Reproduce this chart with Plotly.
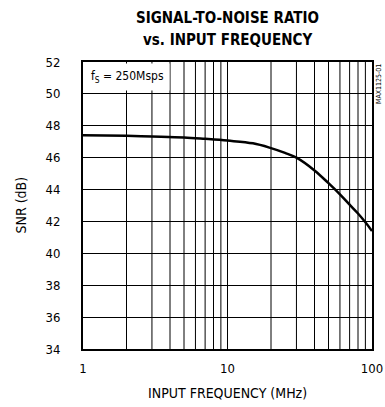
import plotly.graph_objects as go

freq_mhz = [1, 2, 3, 5, 7, 10, 15, 20, 25, 30, 40, 50, 60, 70, 80, 90, 100]
snr_db = [47.4, 47.37, 47.33, 47.27, 47.18, 47.07, 46.9, 46.6, 46.3, 46.0, 45.2, 44.4, 43.7, 43.05, 42.5, 41.95, 41.4]

x_ticks = [1, 10, 100]
x_grid = [2, 3, 4, 5, 6, 7, 8, 9, 20, 30, 40, 50, 60, 70, 80, 90]
y_ticks = [34, 36, 38, 40, 42, 44, 46, 48, 50, 52]
title_lines = ["SIGNAL-TO-NOISE RATIO", "vs. INPUT FREQUENCY"]

FONT = "DejaVu Sans Condensed, Liberation Sans Narrow, Liberation Sans, Arial"

fig = go.Figure()
fig.add_trace(go.Scatter(x=freq_mhz, y=snr_db, mode="lines",
                         line=dict(color="black", width=2.5, shape="spline"),
                         hoverinfo="skip", showlegend=False))

for g in x_grid:
    fig.add_shape(type="line", xref="x", yref="paper", x0=g, x1=g, y0=0, y1=1,
                  line=dict(color="black", width=1), layer="below")

fig.update_layout(
    width=385, height=407,
    margin=dict(l=83, r=13, t=62, b=58, autoexpand=False),
    paper_bgcolor="white", plot_bgcolor="white",
    font=dict(family=FONT, color="black", size=12),
    xaxis=dict(type="log", range=[0, 2], tickvals=x_ticks, ticktext=["1", "10", "100"],
               showgrid=True, gridcolor="black", gridwidth=1,
               showline=True, linecolor="black", linewidth=2, mirror=True,
               ticks="outside", ticklen=6, tickcolor="rgba(0,0,0,0)", zeroline=False,
               automargin=False, tickfont=dict(size=13)),
    yaxis=dict(range=[34, 52], tickvals=y_ticks,
               showgrid=True, gridcolor="black", gridwidth=1,
               showline=True, linecolor="black", linewidth=2, mirror=True,
               ticks="outside", ticklen=18, tickcolor="rgba(0,0,0,0)", zeroline=False,
               automargin=False, tickfont=dict(size=13)),
)

for txt, shift in zip(title_lines, [44, 22]):
    fig.add_annotation(xref="paper", yref="paper", x=0.5, y=1, xanchor="center", yanchor="middle",
                       text="<b>" + txt + "</b>", showarrow=False, yshift=shift,
                       font=dict(size=15))
fig.add_annotation(xref="paper", yref="paper", x=0.5, y=0, xanchor="center", yanchor="middle",
                   text="INPUT FREQUENCY (MHz)", showarrow=False, yshift=-44,
                   font=dict(size=14))
fig.add_annotation(xref="paper", yref="paper", x=0, y=0.5, xanchor="center", yanchor="middle",
                   text="SNR (dB)", textangle=-90, showarrow=False, xshift=-63,
                   font=dict(size=14))
fig.add_annotation(xref="paper", yref="paper", x=0.0, y=1.0, xanchor="left", yanchor="top",
                   text="f<sub>S</sub> = 250Msps", showarrow=False,
                   bgcolor="white", borderpad=5, font=dict(size=12),
                   xshift=2, yshift=-1)
fig.add_annotation(xref="paper", yref="paper", x=1.0, y=1.0, xanchor="left", yanchor="top",
                   text="MAX1125-01", textangle=-90, showarrow=False,
                   font=dict(size=7), xshift=1)

fig.write_html("out.html", config={"displayModeBar": False},
               post_script="document.body.style.margin='0';document.body.style.overflow='hidden';")
